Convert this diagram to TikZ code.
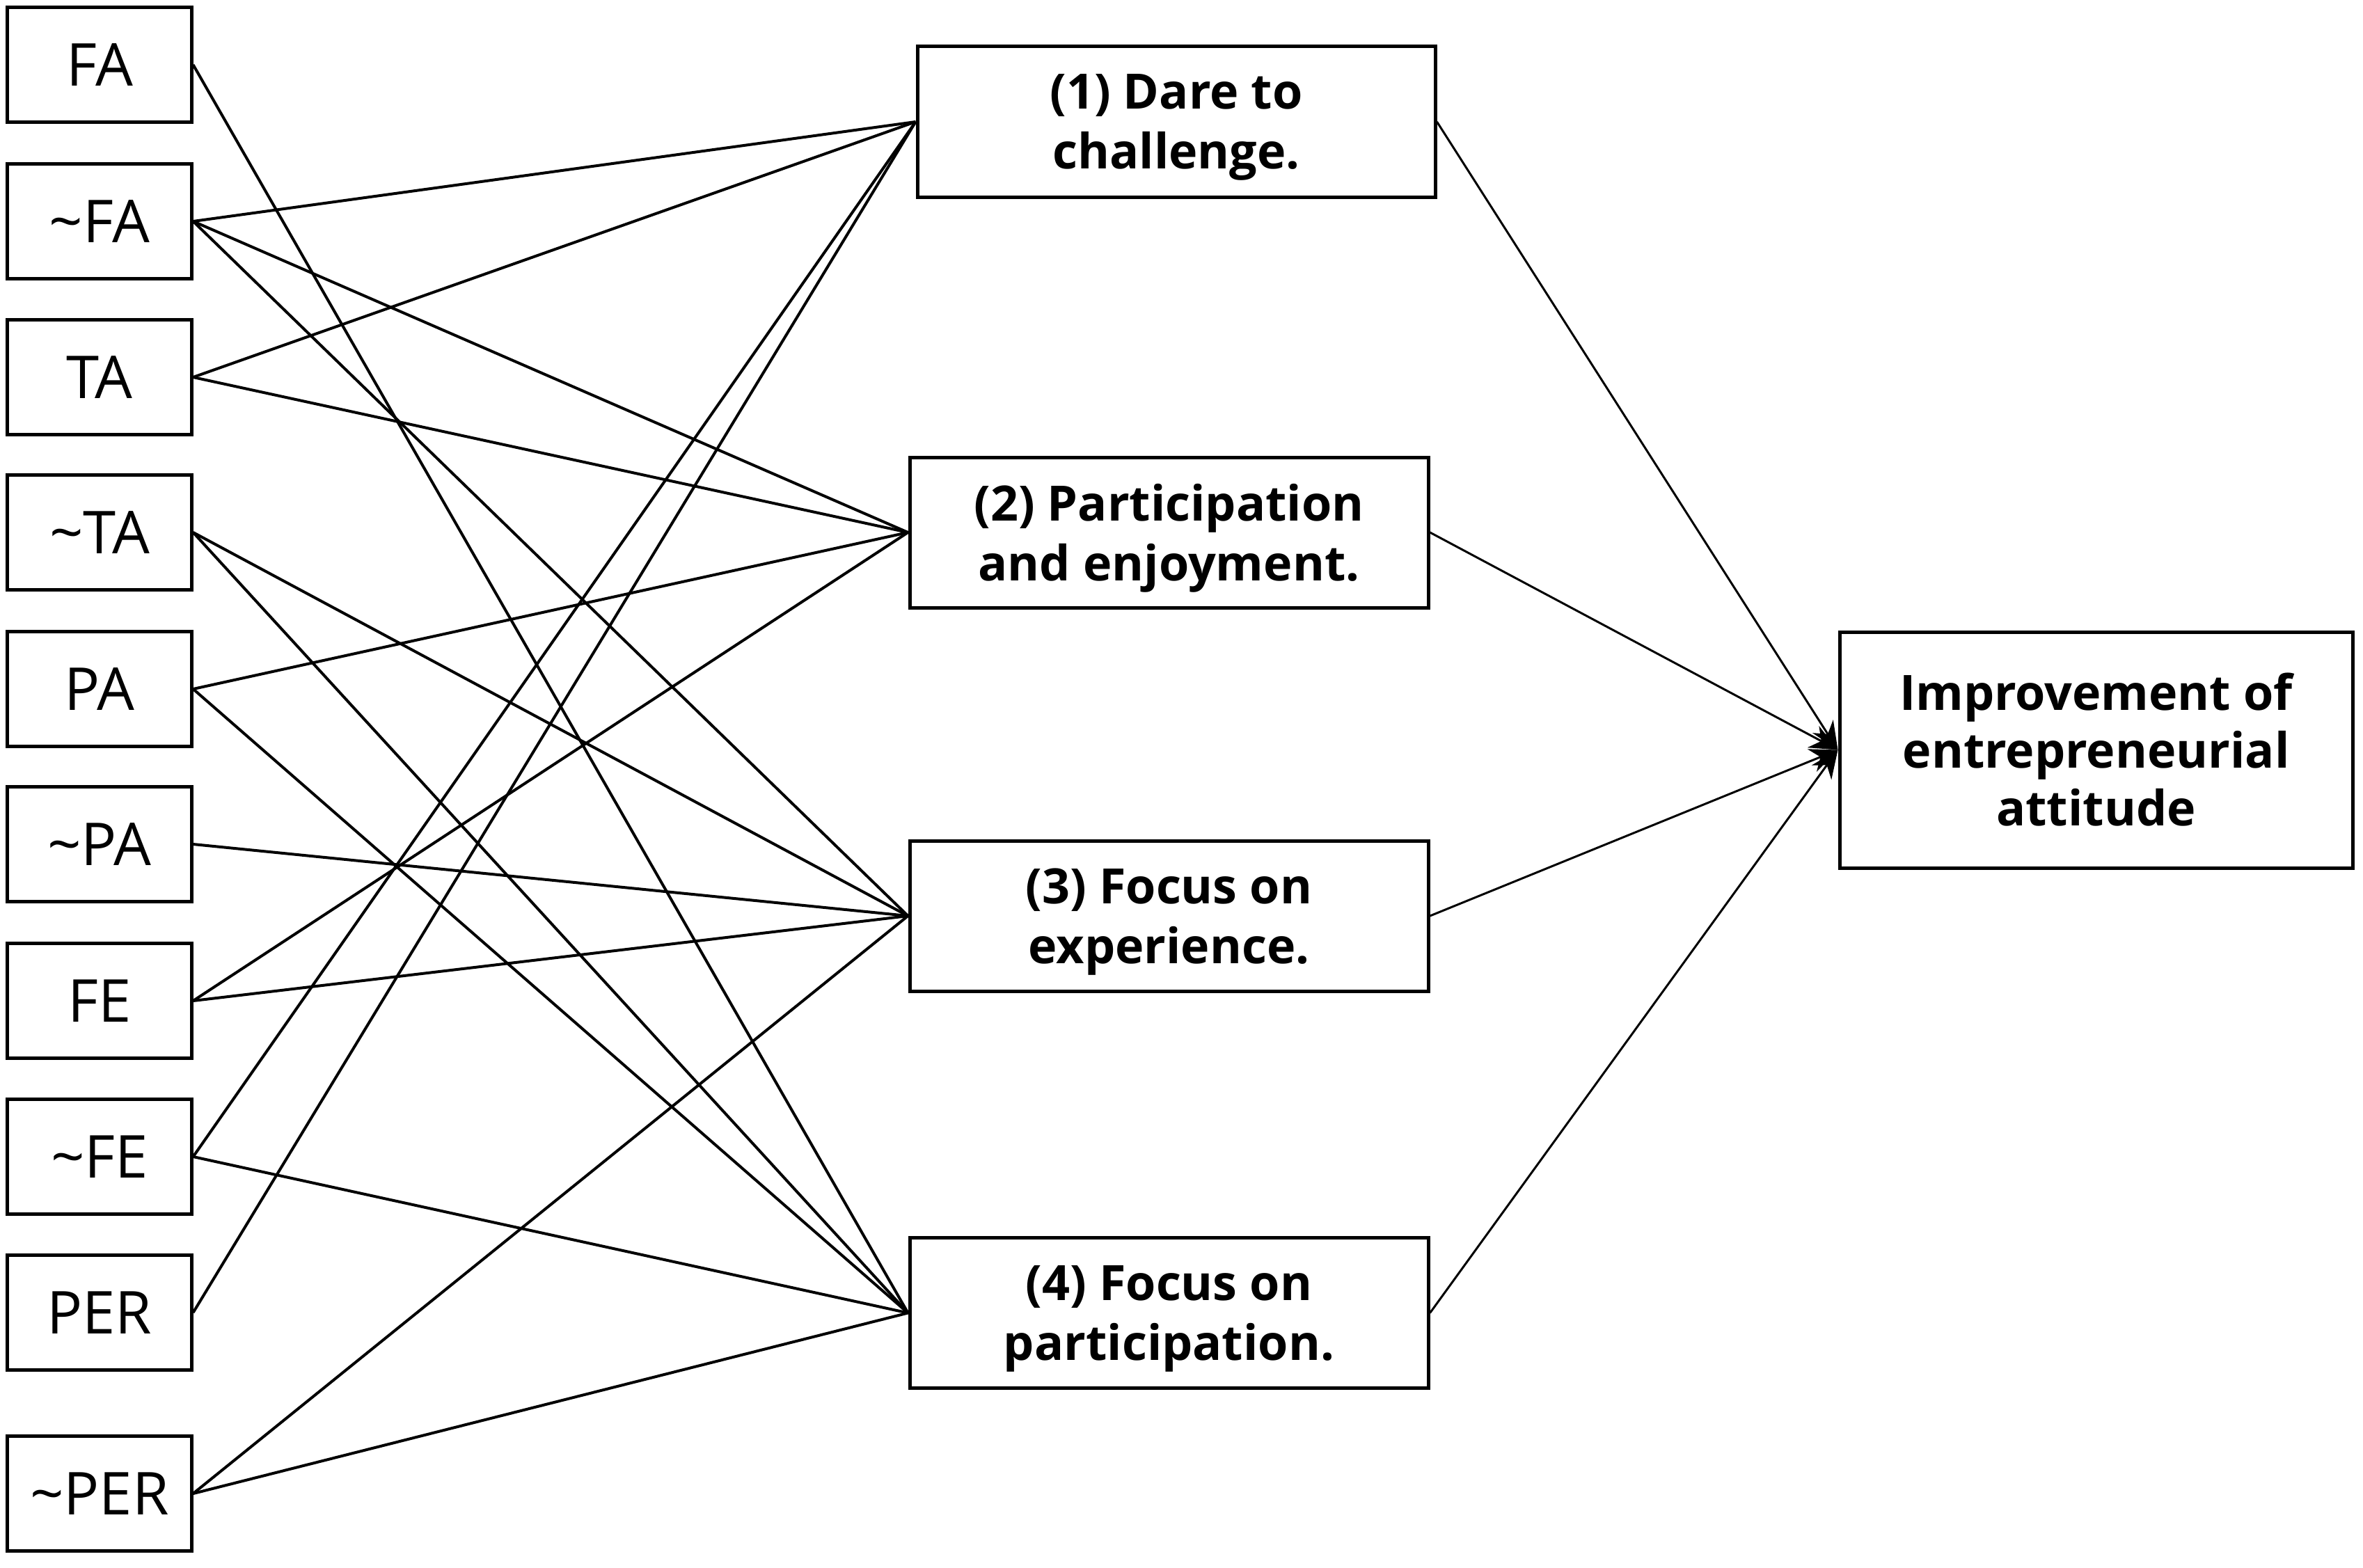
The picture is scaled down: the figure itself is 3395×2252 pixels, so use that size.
\documentclass[tikz,border=0pt]{standalone}
\usepackage{fontspec}
\setmainfont{Open Sans}
\usetikzlibrary{arrows.meta}
\begin{document}
\begin{tikzpicture}[x=0.2pt,y=-0.2pt,
  lbox/.style={draw, line width=1pt, minimum width=52.8pt, minimum height=33pt, inner sep=0pt,
    font=\fontsize{17}{20}\selectfont},
  mbox/.style={draw, line width=1pt, minimum width=149pt, minimum height=43.2pt, inner sep=0pt,
    text depth=0pt, align=center, font=\bfseries\fontsize{14}{17.2}\selectfont},
  rbox/.style={draw, line width=1pt, minimum width=147.4pt, minimum height=67.8pt, inner sep=0pt,
    align=center, font=\bfseries\fontsize{14}{16.6}\selectfont},
  link/.style={line width=0.8pt},
  res/.style={line width=0.6pt, -{Stealth[length=8pt,width=7pt]}}]
\useasboundingbox (0,0) rectangle (3395,2252);
% left factors
\node[lbox] (FA)   at (143,93)   {FA};
\node[lbox] (nFA)  at (143,318)  {\textasciitilde FA};
\node[lbox] (TA)   at (143,542)  {TA};
\node[lbox] (nTA)  at (143,765)  {\textasciitilde TA};
\node[lbox] (PA)   at (143,990)  {PA};
\node[lbox] (nPA)  at (143,1213) {\textasciitilde PA};
\node[lbox] (FE)   at (143,1438) {FE};
\node[lbox] (nFE)  at (143,1662) {\textasciitilde FE};
\node[lbox] (PER)  at (143,1886) {PER};
\node[lbox] (nPER) at (143,2146) {\textasciitilde PER};
% middle outcomes
\node[mbox, minimum width=148.8pt] (m1) at (1690,175)    {(1) Dare to\\challenge.};
\node[mbox] (m2) at (1679.5,765)  {(2) Participation\\and enjoyment.};
\node[mbox] (m3) at (1679.5,1316) {(3) Focus on\\experience.};
\node[mbox] (m4) at (1679.5,1886.5) {(4) Focus on\\participation.};
% result
\node[rbox] (res) at (3011.5,1077.5) {Improvement of\\entrepreneurial\\attitude};
% connectors
\draw[link] (FA.east) -- (m4.west);
\draw[link] (nFA.east) -- (m1.west);
\draw[link] (nFA.east) -- (m2.west);
\draw[link] (nFA.east) -- (m3.west);
\draw[link] (TA.east) -- (m1.west);
\draw[link] (TA.east) -- (m2.west);
\draw[link] (nTA.east) -- (m3.west);
\draw[link] (nTA.east) -- (m4.west);
\draw[link] (PA.east) -- (m2.west);
\draw[link] (PA.east) -- (m4.west);
\draw[link] (nPA.east) -- (m3.west);
\draw[link] (FE.east) -- (m2.west);
\draw[link] (FE.east) -- (m3.west);
\draw[link] (nFE.east) -- (m1.west);
\draw[link] (nFE.east) -- (m4.west);
\draw[link] (PER.east) -- (m1.west);
\draw[link] (nPER.east) -- (m3.west);
\draw[link] (nPER.east) -- (m4.west);
\draw[res] (m1.east) -- (res.west);
\draw[res] (m2.east) -- (res.west);
\draw[res] (m3.east) -- (res.west);
\draw[res] (m4.east) -- (res.west);
\end{tikzpicture}
\end{document}
